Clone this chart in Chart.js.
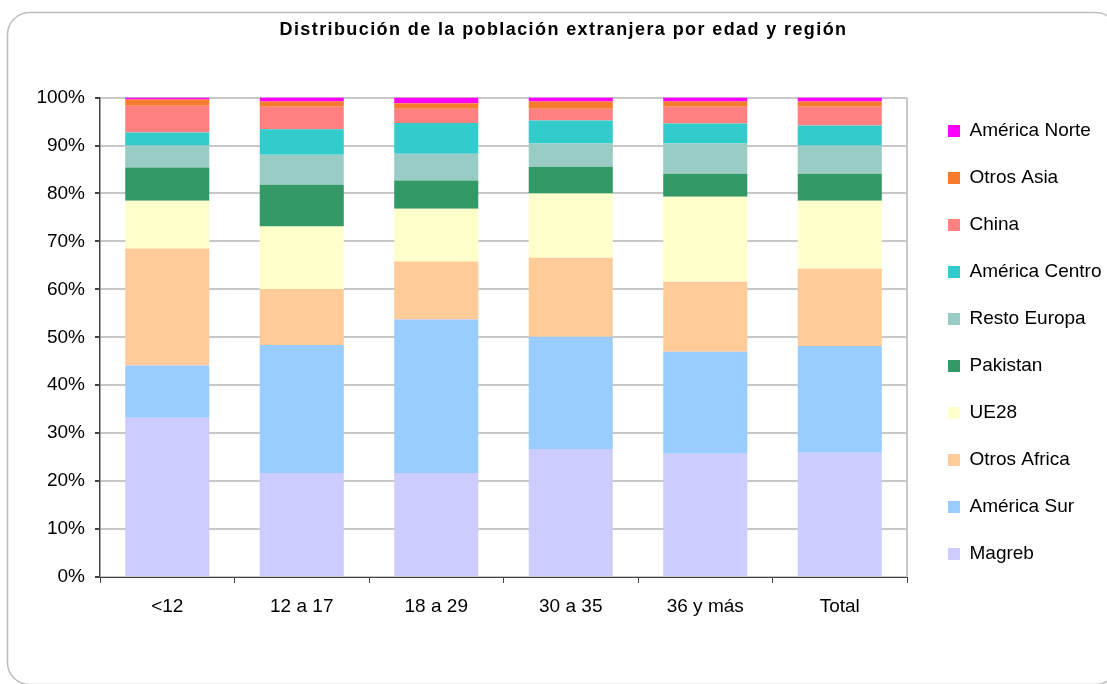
<!DOCTYPE html>
<html>
<head>
<meta charset="utf-8">
<script src="https://cdn.jsdelivr.net/npm/chart.js@4"></script>
<style>
  html, body { margin: 0; padding: 0; background: #ffffff; }
  #wrap { width: 1107px; height: 684px; position: relative; }
</style>
</head>
<body>
<div id="wrap"><canvas id="c" width="1107" height="684"></canvas></div>
<script>
const categories = ['<12', '12 a 17', '18 a 29', '30 a 35', '36 y más', 'Total'];

const magreb        = [33.2, 21.7, 21.7, 26.7, 25.7, 25.9];
const americaSur    = [10.9, 26.7, 32.0, 23.4, 21.3, 22.3];
const otrosAfrica   = [24.4, 11.7, 12.1, 16.5, 14.6, 16.1];
const ue28          = [10.0, 13.0, 11.0, 13.4, 17.7, 14.2];
const pakistan      = [6.9, 8.7, 5.9, 5.6, 4.8, 5.6];
const restoEuropa   = [4.6, 6.3, 5.6, 4.8, 6.3, 5.9];
const americaCentro = [2.7, 5.3, 6.4, 4.8, 4.2, 4.2];
const china         = [5.6, 4.7, 3.0, 2.5, 3.5, 3.9];
const otrosAsia     = [1.3, 1.1, 1.1, 1.5, 1.1, 1.1];
const americaNorte  = [0.4, 0.8, 1.2, 0.8, 0.8, 0.8];

const yTicks = [0, 10, 20, 30, 40, 50, 60, 70, 80, 90, 100];

const series = [
  { label: 'Magreb', data: magreb, color: '#CCCCFF' },
  { label: 'América Sur', data: americaSur, color: '#99CCFF' },
  { label: 'Otros Africa', data: otrosAfrica, color: '#FFCC99' },
  { label: 'UE28', data: ue28, color: '#FFFFCC' },
  { label: 'Pakistan', data: pakistan, color: '#339966' },
  { label: 'Resto Europa', data: restoEuropa, color: '#99CCC4' },
  { label: 'América Centro', data: americaCentro, color: '#33CCCC' },
  { label: 'China', data: china, color: '#FF8080' },
  { label: 'Otros Asia', data: otrosAsia, color: '#F77B2D' },
  { label: 'América Norte', data: americaNorte, color: '#FF00FF' }
];

const FONT = "'Liberation Sans', Arial, sans-serif";

const frame = {
  id: 'frame',
  beforeDraw(chart) {
    const ctx = chart.ctx;
    ctx.save();
    ctx.strokeStyle = '#BDBDBD';
    ctx.lineWidth = 1.5;
    ctx.beginPath();
    ctx.roundRect(7.5, 12.5, 1110, 672, 22);
    ctx.stroke();
    ctx.restore();
  },
  afterDatasetsDraw(chart) {
    const a = chart.chartArea;
    const ctx = chart.ctx;
    ctx.save();
    ctx.strokeStyle = '#C8C8C8';
    ctx.lineWidth = 2;
    ctx.beginPath();
    ctx.moveTo(a.right, a.top);
    ctx.lineTo(a.right, a.bottom);
    ctx.stroke();
    ctx.restore();
  },
  beforeLayout(chart) {
    const lg = chart.legend;
    if (lg && !lg._fixed) {
      const orig = lg.fit;
      lg.fit = function () { orig.call(this); this.width = 200; };
      lg._fixed = true;
    }
    const tb = chart.titleBlock;
    if (tb && !tb._fixed) {
      const origDraw = tb.draw;
      tb.draw = function () {
        const ctx = this.ctx;
        ctx.save();
        ctx.translate(10, 0);
        ctx.letterSpacing = '1.4px';
        origDraw.apply(this, arguments);
        ctx.restore();
        ctx.letterSpacing = '0px';
      };
      tb._fixed = true;
    }
  },
  afterLayout(chart) {
    const lg = chart.legend;
    if (lg) {
      const pad = lg.options.labels.padding;
      const dx = 948 - pad - lg.left;
      lg.left += dx; lg.right += dx;
      lg.top += 24; lg.bottom += 24;
    }
  }
};

new Chart(document.getElementById('c'), {
  type: 'bar',
  data: {
    labels: categories,
    datasets: series.map(s => ({
      label: s.label,
      data: s.data,
      backgroundColor: s.color,
      borderWidth: 0,
      categoryPercentage: 0.625,
      barPercentage: 1.0
    }))
  },
  plugins: [frame],
  options: {
    responsive: false,
    animation: false,
    devicePixelRatio: 1,
    layout: { padding: { left: 0, right: 0, top: 0, bottom: 47 } },
    plugins: {
      title: {
        display: true,
        text: 'Distribución de la población extranjera por edad y región',
        color: '#000',
        font: { family: FONT, size: 18, weight: 'bold' },
        padding: { top: 19, bottom: 57 }
      },
      legend: {
        position: 'right',
        fullSize: true,
        reverse: true,
        labels: {
          color: '#000',
          font: { family: FONT, size: 19 },
          boxWidth: 12,
          boxHeight: 12,
          padding: 28
        }
      },
      tooltip: { enabled: false }
    },
    scales: {
      x: {
        stacked: true,
        grid: { drawOnChartArea: false, drawTicks: true, tickLength: 6, tickColor: '#444', offset: true },
        border: { color: '#444', width: 1 },
        ticks: { color: '#000', font: { family: FONT, size: 19 }, padding: 12, maxRotation: 0 },
        afterFit(s) { s.height = 60; }
      },
      y: {
        stacked: true,
        min: 0,
        max: 100,
        afterBuildTicks(s) { s.ticks = yTicks.map(v => ({ value: v })); },
        grid: { color: '#C8C8C8', lineWidth: 2, tickLength: 5, tickColor: '#444' },
        border: { color: '#444', width: 1.5 },
        ticks: { color: '#000', font: { family: FONT, size: 19 }, padding: 10, callback: v => v + '%' },
        afterFit(s) { s.width = 100; }
      }
    }
  }
});
</script>
</body>
</html>
